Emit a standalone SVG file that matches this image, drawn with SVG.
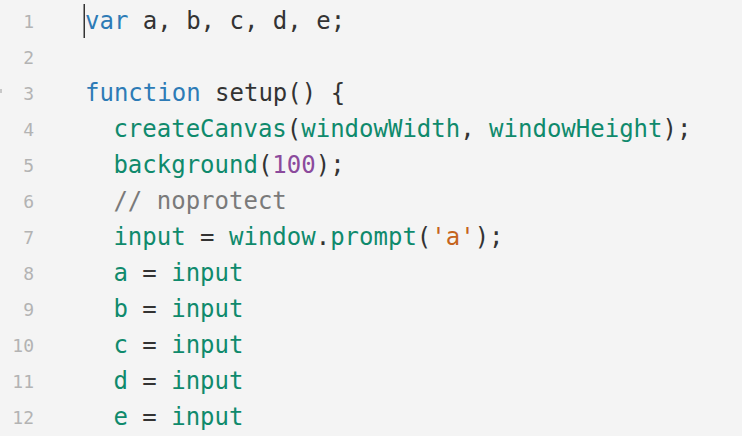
<svg xmlns="http://www.w3.org/2000/svg" width="742" height="436" viewBox="0 0 742 436">
<style>
.ln{font-family:"DejaVu Sans Mono","Liberation Mono",monospace;font-size:18px;fill:#b3b3b3;text-anchor:end}
.code{font-family:"DejaVu Sans Mono","Liberation Mono",monospace;font-size:24px;fill:#333333;white-space:pre}
.kw{fill:#2d7bb6}
.fn{fill:#0f8a6c}
.num{fill:#8b4a9c}
.str{fill:#c5641c}
.cm{fill:#7a7a7a}
</style>
<rect width="742" height="436" fill="#f4f4f4"/>
<g id="gutter">
<text class="ln" x="34" y="28">1</text>
<text class="ln" x="34" y="64">2</text>
<text class="ln" x="34" y="100">3</text>
<text class="ln" x="34" y="136">4</text>
<text class="ln" x="34" y="172">5</text>
<text class="ln" x="34" y="208">6</text>
<text class="ln" x="34" y="244">7</text>
<text class="ln" x="34" y="280">8</text>
<text class="ln" x="34" y="316">9</text>
<text class="ln" x="34" y="352">10</text>
<text class="ln" x="34" y="388">11</text>
<text class="ln" x="34" y="424">12</text>
<rect x="0" y="89" width="2" height="4" fill="#c8c8c8"/>
</g>
<g id="code">
<text class="code" x="85" y="29" xml:space="preserve"><tspan class="kw">var</tspan> a, b, c, d, e;</text>
<text class="code" x="85" y="101" xml:space="preserve"><tspan class="kw">function</tspan> setup() {</text>
<text class="code" x="113.4" y="137" xml:space="preserve"><tspan class="fn">createCanvas</tspan>(<tspan class="fn">windowWidth</tspan>, <tspan class="fn">windowHeight</tspan>);</text>
<text class="code" x="113.4" y="173" xml:space="preserve"><tspan class="fn">background</tspan>(<tspan class="num">100</tspan>);</text>
<text class="code cm" x="113.4" y="209" xml:space="preserve">// noprotect</text>
<text class="code" x="113.4" y="245" xml:space="preserve"><tspan class="fn">input</tspan> = <tspan class="fn">window</tspan>.<tspan class="fn">prompt</tspan>(<tspan class="str">'a'</tspan>);</text>
<text class="code" x="113.4" y="281" xml:space="preserve"><tspan class="fn">a</tspan> = <tspan class="fn">input</tspan></text>
<text class="code" x="113.4" y="317" xml:space="preserve"><tspan class="fn">b</tspan> = <tspan class="fn">input</tspan></text>
<text class="code" x="113.4" y="353" xml:space="preserve"><tspan class="fn">c</tspan> = <tspan class="fn">input</tspan></text>
<text class="code" x="113.4" y="389" xml:space="preserve"><tspan class="fn">d</tspan> = <tspan class="fn">input</tspan></text>
<text class="code" x="113.4" y="425" xml:space="preserve"><tspan class="fn">e</tspan> = <tspan class="fn">input</tspan></text>
<rect x="83.5" y="4" width="1.5" height="34" fill="#333333"/>
</g>
</svg>
